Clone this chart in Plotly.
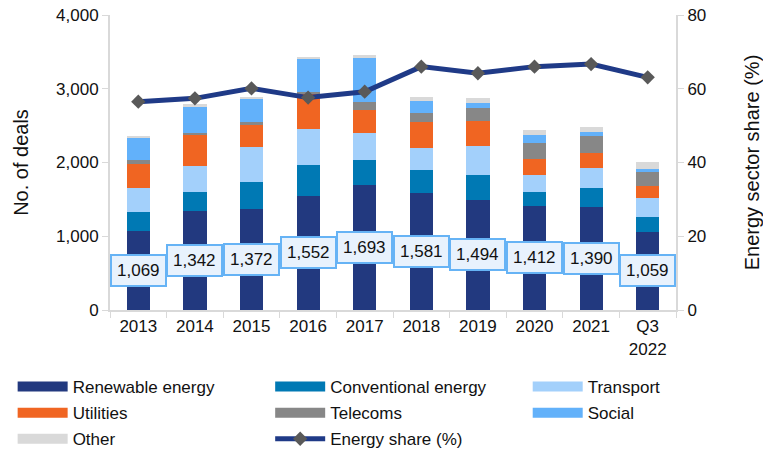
import plotly.graph_objects as go

# categorie e valori (numero di operazioni per settore)
years = ["2013", "2014", "2015", "2016", "2017", "2018", "2019", "2020", "2021", "Q3<br>2022"]
renewable = [1069, 1342, 1372, 1552, 1693, 1581, 1494, 1412, 1390, 1059]
conventional = [264, 262, 364, 419, 345, 317, 341, 192, 260, 203]
transport = [317, 344, 474, 488, 366, 303, 384, 227, 271, 258]
utilities = [325, 420, 294, 465, 308, 344, 344, 221, 204, 163]
telecoms = [59, 36, 50, 36, 113, 122, 172, 217, 230, 194]
social = [294, 362, 307, 439, 596, 167, 76, 104, 59, 36]
other = [31, 27, 32, 32, 37, 59, 59, 68, 63, 91]
energy_share = [56.5, 57.4, 60.1, 57.6, 59.2, 66.0, 64.2, 66.0, 66.7, 63.1]

FONT = "Liberation Sans, Arial, sans-serif"
AXIS_GREY = "#d9d9d9"
FS = 17

# nome, valori, colore, colonna della legenda
series = [
    ("Renewable energy", renewable, "#22397f", "legend"),
    ("Conventional energy", conventional, "#0079b4", "legend2"),
    ("Transport", transport, "#a3d0fb", "legend3"),
    ("Utilities", utilities, "#f06522", "legend"),
    ("Telecoms", telecoms, "#878787", "legend2"),
    ("Social", social, "#62b1fa", "legend3"),
    ("Other", other, "#d9d9d9", "legend"),
]

fig = go.Figure()
for name, vals, col, leg in series:
    fig.add_trace(go.Bar(
        x=years, y=vals, name=name, legendgroup=name, showlegend=False,
        marker=dict(color=col, line=dict(width=0)),
    ))
    # voce di legenda con rettangolo largo come nell'originale
    fig.add_trace(go.Scatter(
        x=[None], y=[None], name=name, legendgroup=name, legend=leg,
        mode="lines", line=dict(color=col, width=10),
    ))

fig.add_trace(go.Scatter(
    x=years, y=energy_share, name="Energy share (%)", yaxis="y2",
    legend="legend2", legendgroup="share",
    mode="lines+markers",
    line=dict(color="#1f3a87", width=5),
    marker=dict(symbol="diamond", size=11, color="#595959"),
))

# etichette dei valori rinnovabili al centro del segmento
for i, v in enumerate(renewable):
    fig.add_annotation(
        x=i, y=v / 2, xref="x", yref="y", text=f"{v:,}", showarrow=False,
        font=dict(size=FS, color="#111111", family=FONT),
        bgcolor="#e8f2fd", bordercolor="#66b3f5", borderwidth=2, borderpad=5,
    )

leg_common = dict(
    orientation="v", xanchor="left", yanchor="top", y=-0.20,
    itemwidth=50, font=dict(size=FS), tracegroupgap=1,
    traceorder="grouped", bgcolor="rgba(0,0,0,0)",
)

fig.update_layout(
    width=763, height=454,
    margin=dict(l=110, r=87, t=15, b=144, autoexpand=False),
    barmode="stack", bargap=0.59,
    plot_bgcolor="white", paper_bgcolor="white",
    font=dict(family=FONT, size=FS, color="#111111"),
    xaxis=dict(
        type="category", range=[-0.5, 9.5],
        showline=True, linecolor=AXIS_GREY, linewidth=2,
        ticks="outside", tickson="boundaries", ticklen=6, tickcolor=AXIS_GREY,
    ),
    yaxis=dict(
        range=[0, 4000], dtick=1000, tickformat=",", showgrid=False,
        showline=True, linecolor=AXIS_GREY, linewidth=2,
        ticks="outside", ticklen=6, tickcolor=AXIS_GREY,
        title=dict(text="No. of deals", standoff=22),
        zeroline=False,
    ),
    yaxis2=dict(
        range=[0, 80], dtick=20, overlaying="y", side="right", showgrid=False,
        showline=True, linecolor=AXIS_GREY, linewidth=2,
        ticks="outside", ticklen=6, tickcolor=AXIS_GREY,
        title=dict(text="Energy sector share (%)", standoff=42),
        zeroline=False,
    ),
    legend=dict(x=-0.172, **leg_common),
    legend2=dict(x=0.283, **leg_common),
    legend3=dict(x=0.738, **leg_common),
)

# niente margine del body, così la figura parte dall'angolo della finestra
fig.write_html(
    "out.html",
    config={"displayModeBar": False},
    post_script="document.body.style.margin='0';",
)
